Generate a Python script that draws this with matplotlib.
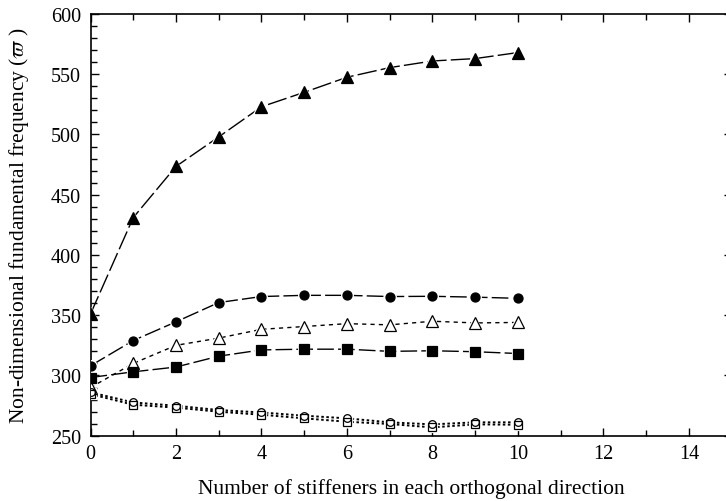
import matplotlib
matplotlib.use("Agg")
import matplotlib.pyplot as plt
from matplotlib.ticker import MultipleLocator

plt.rcParams['font.family'] = ['Liberation Serif', 'DejaVu Serif']
plt.rcParams['mathtext.fontset'] = 'stix'

x = [0, 1, 2, 3, 4, 5, 6, 7, 8, 9, 10]
filled_tri = [351, 431, 473.5, 498, 523, 535, 547.5, 555.5, 561, 563, 568]
filled_circ = [308, 329, 344.5, 360.5, 365.5, 366.5, 366.5, 365.5, 365.7, 365, 364]
open_tri = [290, 310, 325, 331, 338.3, 340.6, 343, 342, 345, 343.6, 344]
filled_sq = [298.3, 303, 307, 316, 321.2, 321.8, 321.8, 320, 320.5, 319.7, 318.2]
open_circ = [286, 277.6, 274.9, 271.3, 269.3, 266.6, 264.4, 261.1, 259.4, 261.1, 261.1]
open_sq = [284.5, 275.7, 273.3, 269.9, 267.4, 264.4, 261.6, 259.7, 256.9, 259.4, 259.1]

W, H = 726, 502
fig = plt.figure(figsize=(W / 100, H / 100), dpi=100)
left, right, top, bottom = 90.5, 731.6, 15, 436.7
ax = fig.add_axes([left / W, 1 - bottom / H, (right - left) / W, (bottom - top) / H])

series = [
    (filled_tri, '^', 8, 'black', (0, (14, 3)), 1.0),
    (filled_circ, 'o', 6.5, 'black', (0, (12, 3)), 1.0),
    (open_tri, '^', 8, 'white', (0, (3, 3)), 1.0),
    (filled_sq, 's', 6.5, 'black', (0, (12, 3)), 1.0),
    (open_sq, 's', 5.5, 'white', (0, (1.3, 1.3)), 1.4),
    (open_circ, 'o', 5.5, 'none', (0, (1.3, 1.3)), 1.4),
]

for y, m, ms, fc, ls, lw in series:
    ax.plot(x, y, color='black', lw=lw, linestyle=ls, zorder=2)
for y, m, ms, fc, ls, lw in series:
    ax.plot(x, y, linestyle='none', marker=m, markersize=ms + 1.2,
            markerfacecolor='none', markeredgecolor='white', markeredgewidth=1.6, zorder=3)
for y, m, ms, fc, ls, lw in series:
    ax.plot(x, y, linestyle='none', marker=m, markersize=ms,
            markerfacecolor=fc, markeredgecolor='black', markeredgewidth=0.9, zorder=4)

ax.set_xlim(0, 15)
ax.set_ylim(250, 600)
ax.xaxis.set_major_locator(MultipleLocator(2))
ax.xaxis.set_minor_locator(MultipleLocator(1))
ax.yaxis.set_major_locator(MultipleLocator(50))
ax.yaxis.set_minor_locator(MultipleLocator(10))
ax.tick_params(which='both', direction='in', top=True, right=True, labelsize=14.5, width=1.0)
ax.tick_params(which='major', length=6)
ax.tick_params(which='minor', length=4)
ax.tick_params(axis='x', pad=6)
ax.tick_params(axis='y', pad=7)
for s in ax.spines.values():
    s.set_linewidth(1.2)

ax.set_xlabel('Number of stiffeners in each orthogonal direction', fontsize=15.5, labelpad=11)
ax.set_ylabel(r'Non-dimensional fundamental frequency ($\varpi$ )', fontsize=15.5, labelpad=14)

fig.savefig('out.png', dpi=100)
